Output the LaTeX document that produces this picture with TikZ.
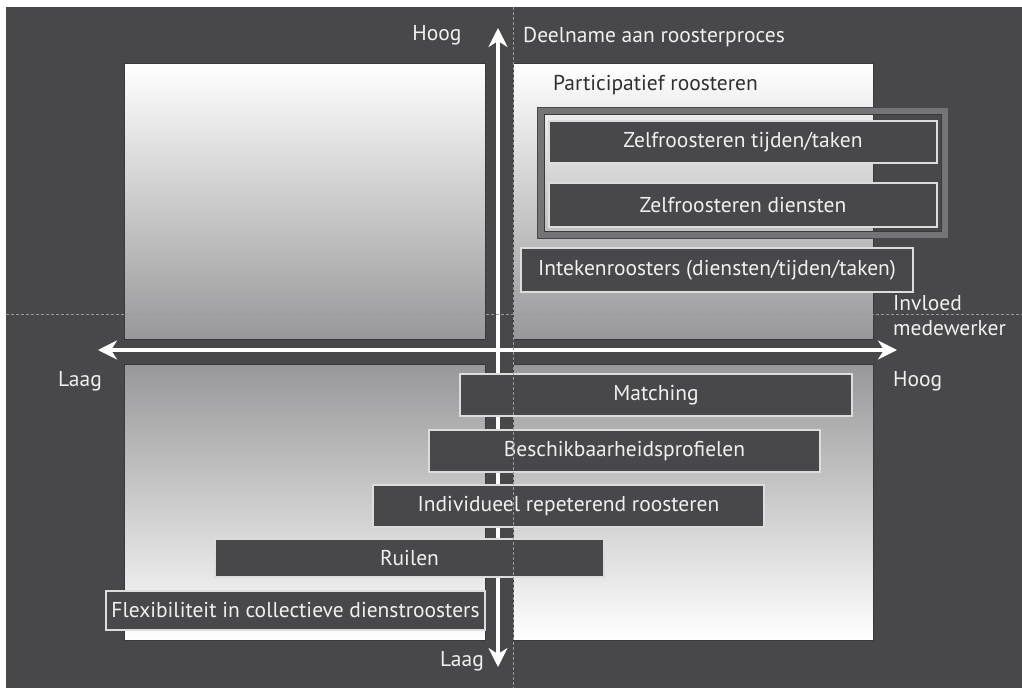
\documentclass[tikz,border=0pt]{standalone}
\usepackage{fontspec}
\setmainfont{PT Sans}
\usetikzlibrary{arrows.meta}
\definecolor{bgdark}{HTML}{48484A}
\definecolor{frameg}{HTML}{747476}
\definecolor{panelg}{HTML}{98989A}
\definecolor{boxline}{HTML}{DCDCDC}
\definecolor{txtlight}{HTML}{F0F0F0}
\definecolor{txtdark}{HTML}{303032}
\definecolor{guide}{HTML}{9A9A9C}
\tikzset{
  panel/.style={draw=bgdark!80!black, line width=0.8pt},
  itembox/.style={fill=bgdark, draw=boxline, line width=1.6pt, inner sep=0pt,
    text=txtlight, font=\fontsize{21.5}{24}\selectfont, anchor=center},
  axisarrow/.style={draw=white, line width=4.5pt,
    arrows={Stealth[length=19pt,width=19pt,inset=6pt,fill=white]-Stealth[length=19pt,width=19pt,inset=6pt,fill=white]}},
  guideline/.style={draw=guide, line width=0.9pt, dash pattern=on 3pt off 2pt},
  lbl/.style={text=txtlight, font=\fontsize{21.5}{24}\selectfont, inner sep=0pt},
  groupframe/.style={draw=frameg, line width=7pt}
}
\begin{document}
\begin{tikzpicture}[x=1pt,y=-1pt]
\useasboundingbox (0,0) rectangle (1022,688);
\fill[white] (0,0) rectangle (1022,688);
\fill[bgdark] (6,7) rectangle (1022,688);
% quadrant panels
\path[panel, top color=white, bottom color=panelg] (124,63) rectangle (485,339);
\path[panel, top color=white, bottom color=panelg] (513,63) rectangle (873,339);
\path[panel, top color=panelg, bottom color=white] (124,364) rectangle (485,640);
\path[panel, top color=panelg, bottom color=white] (513,364) rectangle (873,640);
% participatief group frame
\draw[groupframe] (540.5,110.5) rectangle (944.5,234.5);
\draw[bgdark, line width=0.8pt] (537,107) rectangle (948,238);
\draw[bgdark!80!black, line width=0.8pt] (544,114) rectangle (941,231);
% axes
\coordinate (vtop) at (498,28);
\coordinate (vbot) at (498,667);
\coordinate (hleft) at (98,350);
\coordinate (hright) at (897,350);
\draw[axisarrow] (vbot) -- (vtop);
\draw[axisarrow] (hleft) -- (hright);
% items
\node[itembox, minimum width=388pt, minimum height=42pt] (zt) at (743,142) {Zelfroosteren tijden/taken};
\node[itembox, minimum width=388pt, minimum height=44pt] (zd) at (743,205) {Zelfroosteren diensten};
\node[itembox, minimum width=392pt, minimum height=44pt] (it) at (717,270) {Intekenroosters (diensten/tijden/taken)};
\node[itembox, minimum width=392pt, minimum height=42pt] (ma) at (656,395) {Matching};
\node[itembox, minimum width=391pt, minimum height=42pt] (be) at (624.5,451) {Beschikbaarheidsprofielen};
\node[itembox, minimum width=391pt, minimum height=42pt] (ir) at (568.5,506) {Individueel repeterend roosteren};
\node[itembox, minimum width=389pt, minimum height=38pt] (ru) at (409.5,558) {Ruilen};
\node[itembox, minimum width=379pt, minimum height=39pt] (fl) at (295.5,610.5) {Flexibiliteit in collectieve dienstroosters};
% guide lines
\coordinate (gvt) at (513,7);
\coordinate (gvb) at (513,688);
\coordinate (ghl) at (6,314);
\coordinate (ghr) at (1022,314);
\draw[guideline] (gvt) -- (gvb);
\draw[guideline] (ghl) -- (ghr);
% labels
\node[lbl, anchor=center] (hoogtop) at (437,35) {Hoog};
\node[lbl, anchor=west] (deelname) at (523,37) {Deelname aan roosterproces};
\node[lbl, anchor=west, text=txtdark] (partic) at (553,85) {Participatief roosteren};
\node[lbl, anchor=west] (invloed) at (893,303) {Invloed};
\node[lbl, anchor=west] (medew) at (893,328) {medewerker};
\node[lbl, anchor=center] (laagl) at (80,381) {Laag};
\node[lbl, anchor=west] (hoogr) at (893,381) {Hoog};
\node[lbl, anchor=center] (laagb) at (462,661) {Laag};
\end{tikzpicture}
\end{document}
